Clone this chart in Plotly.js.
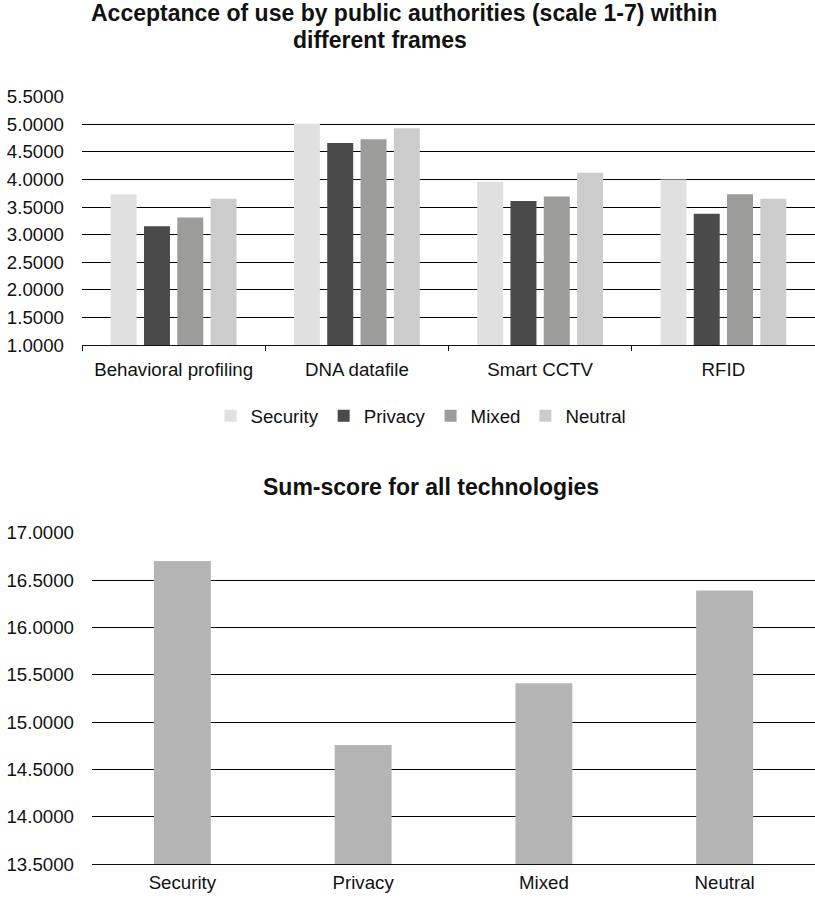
<!DOCTYPE html>
<html>
<head>
<meta charset="utf-8">
<script src="https://cdn.plot.ly/plotly-3.0.1.min.js"></script>
<style>
  html, body { margin: 0; padding: 0; background: #fff; }
  #chart { width: 815px; height: 901px; }
</style>
</head>
<body>
<div id="chart"></div>
<script>
// ---- data ----
const technologies = ['Behavioral profiling', 'DNA datafile', 'Smart CCTV', 'RFID'];
const frameNames = ['Security', 'Privacy', 'Mixed', 'Neutral'];
const securityValues = [3.73, 5.01, 3.96, 4.00];
const privacyValues = [3.15, 4.66, 3.61, 3.38];
const mixedValues = [3.31, 4.73, 3.69, 3.73];
const neutralValues = [3.65, 4.93, 4.12, 3.65];
const sumScoreValues = [16.70, 14.76, 15.41, 16.39];
const topTickValues = [1.0, 1.5, 2.0, 2.5, 3.0, 3.5, 4.0, 4.5, 5.0, 5.5];
const bottomTickValues = [13.5, 14.0, 14.5, 15.0, 15.5, 16.0, 16.5, 17.0];

// ---- styling ----
const W = 815, H = 901;
const FONT = '"Liberation Sans", Arial, Helvetica, sans-serif';
const frameColors = ['#e0e0e0', '#4a4a4a', '#9c9c9a', '#cccccc'];
const seriesValues = [securityValues, privacyValues, mixedValues, neutralValues];

const px = v => v / W;
const py = v => 1 - v / H;

const traces = frameNames.map((name, i) => ({
  type: 'bar',
  name: name,
  x: technologies,
  y: seriesValues[i],
  xaxis: 'x',
  yaxis: 'y',
  marker: { color: frameColors[i], line: { width: 0 } },
  hoverinfo: 'x+y+name'
}));

traces.push({
  type: 'bar',
  name: 'Sum-score',
  x: frameNames,
  y: sumScoreValues,
  xaxis: 'x2',
  yaxis: 'y2',
  width: 0.315,
  marker: { color: '#b5b5b5', line: { width: 0 } },
  showlegend: false
});

const tickFont = { family: FONT, size: 18.7, color: '#111' };

const layout = {
  width: W,
  height: H,
  margin: { l: 0, r: 0, t: 0, b: 0 },
  paper_bgcolor: '#fff',
  plot_bgcolor: '#fff',
  font: { family: FONT, color: '#111' },
  barmode: 'group',
  bargap: 0.273,
  bargroupgap: 0.22,
  showlegend: true,
  legend: {
    orientation: 'h',
    x: px(421), xanchor: 'center',
    y: py(416), yanchor: 'middle',
    font: { family: FONT, size: 18.7, color: '#111' },
    itemwidth: 30,
    bgcolor: 'rgba(0,0,0,0)'
  },
  xaxis: {
    domain: [px(82), 1],
    anchor: 'y',
    type: 'category',
    showline: true, linecolor: '#111', linewidth: 1,
    ticks: 'outside', tickson: 'boundaries', ticklen: 5, tickcolor: '#111', tickwidth: 1,
    ticklabelstandoff: 8,
    showgrid: false, zeroline: false,
    tickfont: tickFont
  },
  yaxis: {
    domain: [py(345), py(96.7)],
    anchor: 'x',
    range: [1, 5.5],
    tickvals: topTickValues,
    tickformat: '.4f',
    showgrid: true, gridcolor: '#000', gridwidth: 1,
    showline: false, zeroline: false, ticks: '',
    ticklabelstandoff: 17,
    tickfont: tickFont
  },
  xaxis2: {
    domain: [px(92), 1],
    anchor: 'y2',
    type: 'category',
    showline: true, linecolor: '#111', linewidth: 1,
    ticks: '',
    ticklabelstandoff: 1,
    showgrid: false, zeroline: false,
    tickfont: tickFont
  },
  yaxis2: {
    domain: [py(864.3), py(532.7)],
    anchor: 'x2',
    range: [13.5, 17],
    tickvals: bottomTickValues,
    tickformat: '.4f',
    showgrid: true, gridcolor: '#000', gridwidth: 1,
    showline: false, zeroline: false, ticks: '',
    ticklabelstandoff: 17,
    tickfont: tickFont
  },
  annotations: [
    {
      text: '<b>Acceptance of use by public authorities (scale 1-7) within</b>',
      xref: 'paper', yref: 'paper',
      x: px(404), y: py(12.5), xanchor: 'center', yanchor: 'middle',
      showarrow: false,
      font: { family: FONT, size: 23, color: '#111' }
    },
    {
      text: '<b>different frames</b>',
      xref: 'paper', yref: 'paper',
      x: px(380), y: py(40.5), xanchor: 'center', yanchor: 'middle',
      showarrow: false,
      font: { family: FONT, size: 23, color: '#111' }
    },
    {
      text: '<b>Sum-score for all technologies</b>',
      xref: 'paper', yref: 'paper',
      x: px(431), y: py(487), xanchor: 'center', yanchor: 'middle',
      showarrow: false,
      font: { family: FONT, size: 23, color: '#111' }
    }
  ]
};

Plotly.newPlot('chart', traces, layout, { displayModeBar: false, staticPlot: true });
</script>
</body>
</html>
